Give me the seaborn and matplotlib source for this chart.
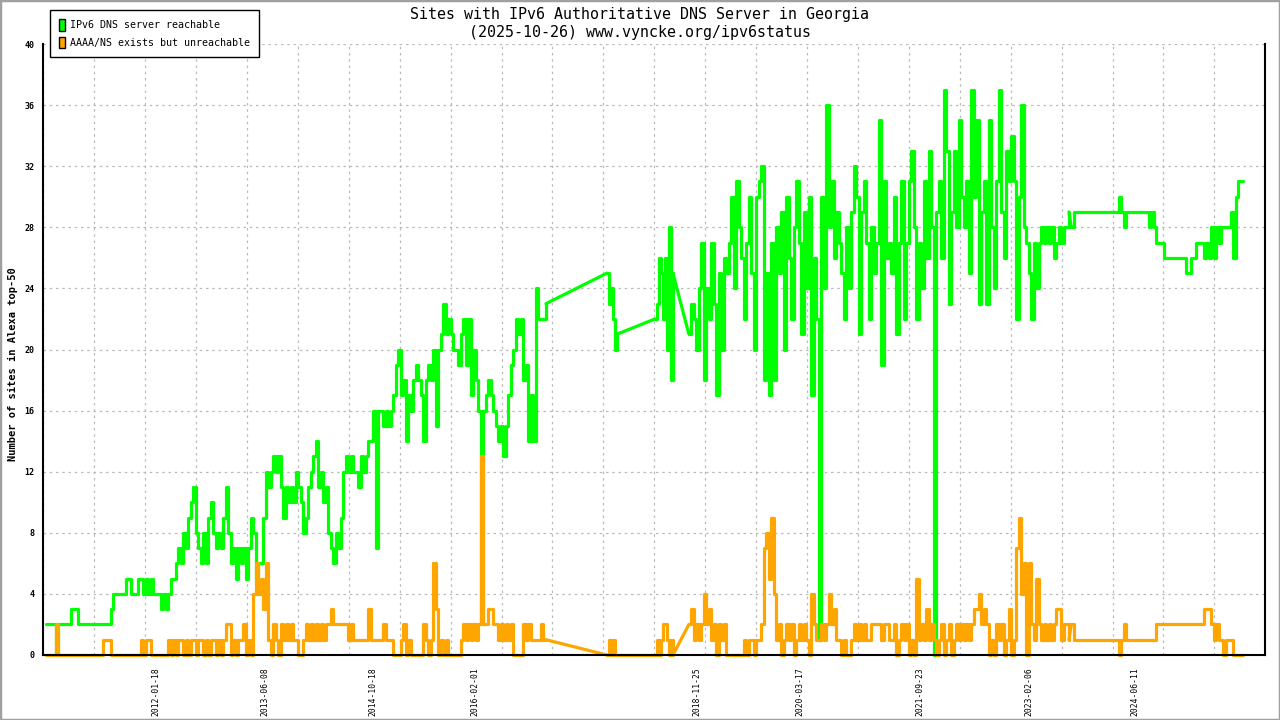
import pandas as pd
import numpy as np
import matplotlib
matplotlib.use("Agg")
import matplotlib.pyplot as plt
import matplotlib.dates as mdates
from matplotlib.patches import Patch, Rectangle
import seaborn as sns

# --- texts ---
title_line1 = "Sites with IPv6 Authoritative DNS Server in Georgia"
title_line2 = "(2025-10-26) www.vyncke.org/ipv6status"
y_label = "Number of sites in Alexa top-50"
series_names = ["IPv6 DNS server reachable", "AAAA/NS exists but unreachable"]
series_colors = ["#00ff00", "#ffa500"]

# date labels written under the x axis
date_labels = ["2012-01-18", "2013-06-08", "2014-10-18", "2016-02-01", "2018-11-25",
               "2020-03-17", "2021-09-23", "2023-02-06", "2024-06-11"]
y_ticks = list(range(0, 41, 4))
x_start, x_end = "2010-08-17", "2026-02-04"

# --- readings, in blocks of evenly spaced samples (gaps between blocks) ---
seg_a_span = ("2010-08-29", "2016-12-27")
seg_a_green = [2, 2, 2, 2, 0, 2, 2, 2, 2, 2,
               3, 3, 3, 2, 2, 2, 2, 2, 2, 2,
               2, 2, 2, 2, 2, 2, 3, 4, 4, 4,
               4, 4, 5, 5, 4, 4, 4, 5, 5, 4,
               5, 4, 5, 4, 4, 4, 3, 4, 3, 4,
               5, 5, 6, 7, 6, 8, 7, 9, 10, 11,
               8, 7, 6, 8, 6, 9, 10, 8, 7, 8,
               7, 9, 11, 8, 6, 7, 5, 7, 6, 7,
               5, 7, 9, 8, 5, 6, 6, 9, 12, 11,
               12, 13, 12, 13, 11, 9, 11, 10, 11, 10,
               12, 11, 10, 8, 9, 11, 12, 13, 14, 11,
               12, 10, 11, 8, 7, 6, 8, 7, 9, 12,
               13, 12, 13, 12, 12, 11, 13, 12, 13, 14,
               14, 16, 7, 16, 16, 15, 16, 15, 16, 17,
               19, 20, 17, 18, 14, 17, 16, 18, 19, 18,
               17, 14, 18, 19, 18, 20, 15, 20, 21, 23,
               21, 22, 21, 20, 20, 19, 21, 22, 19, 22,
               17, 20, 18, 16, 2, 16, 17, 18, 17, 16,
               15, 14, 15, 13, 15, 17, 19, 20, 22, 21,
               22, 18, 19, 14, 17, 14, 24, 22, 22, 22, 23]
seg_a_orange = [0, 0, 0, 0, 2, 0, 0, 0, 0, 0,
                0, 0, 0, 0, 0, 0, 0, 0, 0, 0,
                0, 0, 0, 1, 1, 1, 0, 0, 0, 0,
                0, 0, 0, 0, 0, 0, 0, 0, 1, 0,
                1, 1, 0, 0, 0, 0, 0, 0, 0, 1,
                0, 1, 0, 1, 1, 0, 1, 0, 1, 1,
                0, 1, 1, 0, 1, 0, 1, 1, 0, 1,
                0, 1, 2, 2, 0, 1, 0, 1, 1, 2,
                0, 1, 0, 4, 6, 4, 5, 3, 6, 1,
                0, 2, 1, 0, 2, 1, 2, 1, 2, 1,
                1, 0, 0, 1, 2, 1, 2, 1, 2, 1,
                2, 1, 2, 2, 3, 2, 2, 2, 2, 2,
                2, 1, 2, 1, 1, 1, 1, 1, 1, 3,
                1, 1, 1, 1, 1, 2, 1, 1, 1, 0,
                0, 0, 1, 2, 0, 1, 0, 0, 0, 0,
                0, 2, 1, 0, 1, 6, 3, 0, 1, 0,
                1, 0, 0, 0, 0, 0, 1, 2, 1, 2,
                1, 2, 1, 2, 13, 2, 2, 3, 3, 2,
                2, 1, 2, 1, 2, 1, 2, 0, 0, 0,
                0, 2, 1, 2, 1, 1, 1, 1, 2, 1, 1]

seg_b_span = ("2017-10-05", "2017-11-20")
seg_b_green = [25, 23, 24, 22, 20, 21]
seg_b_orange = [0, 1, 0, 1, 0, 0]

seg_c_span = ("2018-05-15", "2018-08-06")
seg_c_green = [22, 23, 26, 25, 22, 26, 20, 28, 18, 25]
seg_c_orange = [0, 1, 0, 1, 2, 2, 1, 0, 1, 0]

seg_d_span = ("2018-10-19", "2023-08-11")
seg_d_green = [21, 23, 22, 20, 24, 27, 18, 24, 22, 27,
               23, 17, 25, 20, 26, 25, 27, 30, 24, 31,
               28, 26, 22, 27, 30, 25, 20, 30, 31, 32,
               18, 25, 17, 27, 18, 28, 25, 29, 20, 30,
               26, 22, 28, 31, 27, 21, 29, 24, 30, 17,
               26, 22, 1, 30, 24, 36, 28, 31, 26, 29,
               27, 25, 22, 28, 24, 29, 32, 30, 21, 29,
               31, 27, 22, 28, 25, 27, 35, 19, 31, 26,
               27, 25, 30, 21, 27, 31, 22, 27, 31, 33,
               28, 22, 27, 24, 31, 26, 33, 28, 0, 29,
               31, 26, 37, 33, 23, 29, 33, 28, 35, 30,
               28, 31, 25, 37, 30, 35, 23, 29, 31, 23,
               35, 28, 24, 31, 37, 29, 26, 33, 31, 34,
               31, 22, 30, 36, 28, 27, 25, 22, 27, 24,
               27, 28, 27, 28, 27, 28, 26, 27, 28, 27, 28, 28, 29]
seg_d_orange = [2, 3, 1, 2, 1, 2, 4, 2, 3, 1,
                2, 0, 2, 1, 2, 0, 0, 0, 0, 0,
                0, 0, 1, 0, 1, 1, 0, 1, 1, 2,
                7, 8, 5, 9, 4, 1, 2, 0, 1, 2,
                1, 2, 0, 1, 2, 1, 2, 1, 0, 4,
                2, 1, 1, 2, 1, 2, 4, 2, 3, 1,
                1, 0, 1, 0, 0, 1, 2, 1, 2, 1,
                2, 1, 1, 2, 2, 2, 2, 1, 2, 2,
                1, 1, 2, 0, 1, 2, 1, 2, 0, 1,
                0, 5, 1, 2, 1, 3, 1, 2, 1, 0,
                1, 2, 0, 1, 2, 0, 1, 2, 1, 2,
                1, 2, 1, 2, 3, 3, 4, 2, 3, 2,
                0, 1, 0, 2, 1, 2, 0, 1, 3, 0,
                1, 7, 9, 4, 6, 0, 6, 2, 1, 5,
                2, 1, 2, 1, 2, 1, 2, 3, 3, 1, 2, 2, 1]

seg_e_span = ("2023-08-22", "2025-10-26")
seg_e_green = [28, 29, 29, 29, 29, 29, 29, 29, 29, 29,
               29, 29, 29, 29, 29, 29, 29, 29, 29, 30,
               29, 28, 29, 29, 29, 29, 29, 29, 29, 29,
               29, 28, 29, 28, 27, 27, 27, 26, 26, 26,
               26, 26, 26, 26, 26, 26, 25, 25, 26, 26,
               27, 27, 27, 26, 27, 26, 28, 26, 28, 27,
               28, 28, 28, 28, 29, 26, 30, 31, 31, 31]
seg_e_orange = [2, 1, 1, 1, 1, 1, 1, 1, 1, 1,
                1, 1, 1, 1, 1, 1, 1, 1, 1, 0,
                1, 2, 1, 1, 1, 1, 1, 1, 1, 1,
                1, 1, 1, 1, 2, 2, 2, 2, 2, 2,
                2, 2, 2, 2, 2, 2, 2, 2, 2, 2,
                2, 2, 2, 3, 3, 3, 2, 1, 2, 1,
                1, 0, 1, 1, 1, 0, 0, 0, 0, 0]

blocks = [
    (seg_a_span, seg_a_green, seg_a_orange),
    (seg_b_span, seg_b_green, seg_b_orange),
    (seg_c_span, seg_c_green, seg_c_orange),
    (seg_d_span, seg_d_green, seg_d_orange),
    (seg_e_span, seg_e_green, seg_e_orange),
]

# --- long-form table, one unit per block ---
frames = []
for k, ((start, end), green, orange) in enumerate(blocks):
    dates = pd.date_range(start, end, periods=len(green))
    for name, vals in zip(series_names, (green, orange)):
        frames.append(pd.DataFrame({"date": dates, "count": vals, "series": name, "block": k}))
df = pd.concat(frames, ignore_index=True)

# straight lines across the gaps: last reading of a block to first of the next
gap_rows = []
for name in series_names:
    s = df[df["series"] == name]
    for k in range(len(blocks) - 1):
        pair = pd.concat([s[s["block"] == k].tail(1), s[s["block"] == k + 1].head(1)])
        pair = pair.assign(block=k)
        gap_rows.append(pair)
df_gaps = pd.concat(gap_rows, ignore_index=True)

# --- style ---
sns.set_style("white")
plt.rcParams["font.family"] = ["DejaVu Sans Mono", "DejaVu Sans"]
plt.rcParams["text.color"] = "black"
plt.rcParams["xtick.color"] = "black"
plt.rcParams["ytick.color"] = "black"

fig = plt.figure(figsize=(12.8, 7.2), dpi=100)
ax = fig.add_axes([43.3 / 1280, 65 / 720, 1222 / 1280, 611 / 720])

palette = dict(zip(series_names, series_colors))
for name in series_names:
    sns.lineplot(data=df_gaps[df_gaps["series"] == name], x="date", y="count",
                 units="block", estimator=None, color=palette[name],
                 linewidth=2.3, legend=False, ax=ax)
    sns.lineplot(data=df[df["series"] == name], x="date", y="count",
                 units="block", estimator=None, color=palette[name],
                 linewidth=2.3, drawstyle="steps-post", legend=False, ax=ax)
for line in ax.lines:
    line.set_clip_on(False)

# axes limits and ticks
xmin = mdates.date2num(pd.Timestamp(x_start))
xmax = mdates.date2num(pd.Timestamp(x_end))
ax.set_xlim(xmin, xmax)
ax.set_ylim(0, 40)
ax.set_xticks(np.linspace(xmin, xmax, 25))
ax.set_xticks(mdates.date2num(pd.to_datetime(date_labels)), minor=True)
ax.set_xticklabels([], minor=False)
ax.set_xticklabels(date_labels, minor=True, rotation=90, fontsize=5.8)
ax.set_yticks(y_ticks)
ax.set_yticklabels([str(v) for v in y_ticks], fontsize=6, fontweight="bold")
ax.tick_params(axis="x", which="major", direction="out", length=4, width=1.3, color="black")
ax.tick_params(axis="x", which="minor", length=0, pad=9)
ax.tick_params(axis="y", direction="inout", length=7, width=1.3, color="black", pad=3)
ax.set_xlabel("")
ax.set_ylabel("")

ax.grid(True, which="major", color="#bbbbbb", linestyle=(0, (2, 3)), linewidth=0.9)
ax.spines["top"].set_visible(False)
for side in ["left", "bottom", "right"]:
    ax.spines[side].set_color("black")
    ax.spines[side].set_linewidth(1.5)
    ax.spines[side].set_zorder(5)

# titles
fig.text(0.5, 1 - 14 / 720, title_line1, ha="center", va="center", fontsize=10.8)
fig.text(0.5, 1 - 33 / 720, title_line2, ha="center", va="center", fontsize=10.8)
fig.text(13 / 1280, 1 - 364 / 720, y_label, rotation=90, ha="center", va="center",
         fontsize=7.5, fontweight="bold")

# legend with colour boxes
handles = [Patch(facecolor=c, edgecolor="black", linewidth=1) for c in series_colors]
leg = fig.legend(handles, series_names, loc="upper left",
                 bbox_to_anchor=(50 / 1280, 1 - 10 / 720), bbox_transform=fig.transFigure,
                 borderaxespad=0, fontsize=7.2, handlelength=0.6, handleheight=1.4,
                 handletextpad=0.5, labelspacing=0.6, borderpad=0.9,
                 fancybox=False, framealpha=1, edgecolor="black")
leg.get_frame().set_linewidth(1)

# grey outer border
fig.add_artist(Rectangle((0, 0), 1, 1, transform=fig.transFigure, fill=False,
                         edgecolor="#a0a0a0", linewidth=2.5))

fig.savefig("out.png", dpi=100)
